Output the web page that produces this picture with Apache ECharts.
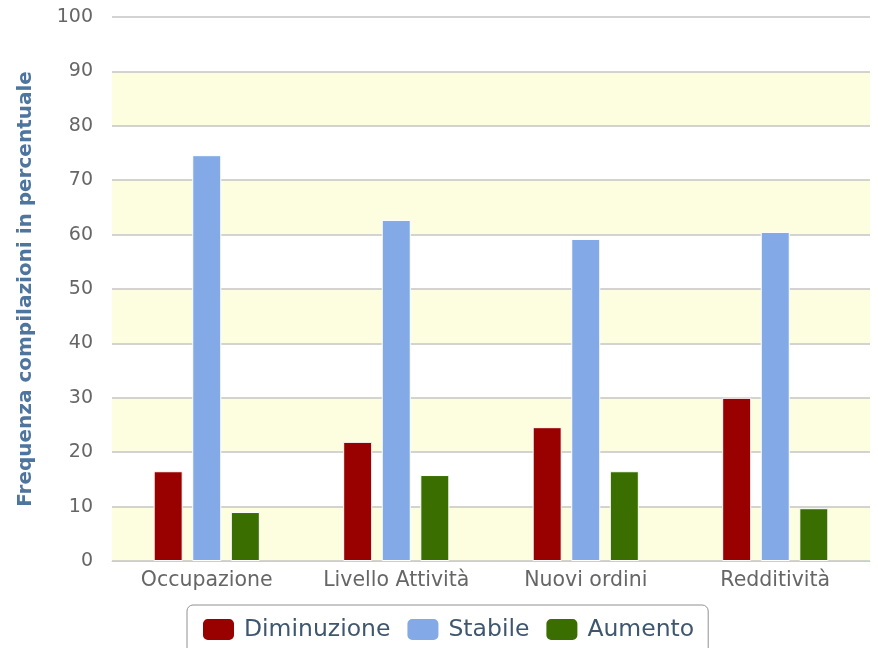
<!DOCTYPE html>
<html>
<head>
<meta charset="utf-8">
<script src="https://cdn.jsdelivr.net/npm/echarts@6/dist/echarts.min.js"></script>
<style>
html, body { margin: 0; padding: 0; background: #fff; }
#chart { width: 878px; height: 648px; }
</style>
</head>
<body>
<div id="chart"></div>
<script>
var categories = ['Occupazione', 'Livello Attività', 'Nuovi ordini', 'Redditività'];
var diminuzione = [16.5, 21.9, 24.6, 30.0];
var stabile = [74.6, 62.7, 59.2, 60.5];
var aumento = [9.0, 15.8, 16.5, 9.7];

var chart = echarts.init(document.getElementById('chart'));
var font = 'DejaVu Sans';

function bar(name, data, color) {
    return {
        name: name,
        type: 'bar',
        data: data,
        barWidth: 29,
        barGap: '33%',
        itemStyle: { color: color, borderColor: '#fff', borderWidth: 1 }
    };
}

var option = {
    animation: false,
    textStyle: { fontFamily: font },
    grid: { left: 112, right: 8, top: 17, bottom: 87 },
    legend: {
        top: 605,
        left: 187,
        padding: [12, 14, 20, 14],
        borderColor: '#909090',
        borderWidth: 1,
        borderRadius: 6,
        itemWidth: 33,
        itemHeight: 23,
        itemGap: 15,
        icon: 'roundRect',
        textStyle: { fontSize: 23.5, color: '#3E576F', fontFamily: font, padding: [2, 0, 0, 4] },
        data: ['Diminuzione', 'Stabile', 'Aumento']
    },
    xAxis: {
        type: 'category',
        data: categories,
        axisLine: { lineStyle: { color: '#C0D0E0' } },
        axisTick: { length: 10, lineStyle: { color: '#C0D0E0' } },
        axisLabel: { fontSize: 20.5, color: '#666', margin: 9, interval: 0, hideOverlap: false }
    },
    yAxis: {
        type: 'value',
        min: 0,
        max: 100,
        interval: 10,
        name: 'Frequenza compilazioni in percentuale',
        nameLocation: 'middle',
        nameGap: 76,
        nameTextStyle: { fontSize: 20, fontWeight: 'bold', color: '#4D759E' },
        axisLine: { show: false },
        axisTick: { show: false },
        axisLabel: { fontSize: 19, color: '#666', margin: 19 },
        splitLine: { lineStyle: { color: '#C4C4C4', width: 1.5 } },
        splitArea: { show: true, areaStyle: { color: ['#FDFDDF', '#FFFFFF'] } }
    },
    series: [
        bar('Diminuzione', diminuzione, '#990000'),
        bar('Stabile', stabile, '#83AAE6'),
        bar('Aumento', aumento, '#3A6E00')
    ]
};

chart.setOption(option);
</script>
</body>
</html>
